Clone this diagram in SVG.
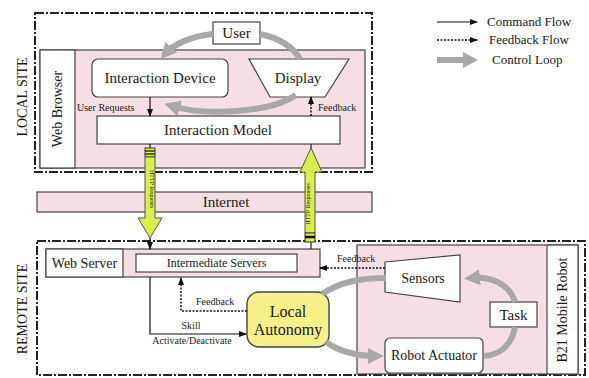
<svg xmlns="http://www.w3.org/2000/svg" width="589" height="378" viewBox="0 0 589 378" font-family="'Liberation Serif','DejaVu Serif',serif">
<style>
text{font-family:'Liberation Serif','DejaVu Serif',serif;fill:#1a1a1a}
.site{fill:none;stroke:#222;stroke-width:2;stroke-dasharray:9 2 2 2}
.pink{fill:#f6dfe4;stroke:#444;stroke-width:1.2}
.wbox{fill:#fff;stroke:#444;stroke-width:1.2}
.cmd{fill:none;stroke:#111;stroke-width:1.2}
.fb{fill:none;stroke:#111;stroke-width:1.5;stroke-dasharray:2 1.5}
.loop{fill:none;stroke:#a8a8a8;stroke-width:6}
.http{fill:#d9ef4c;stroke:#555;stroke-width:1}
.lbl{font-size:15px;text-anchor:middle}
.sm{font-size:10px}
</style>
<defs>
<marker id="ah" markerWidth="8" markerHeight="8" refX="7" refY="4" orient="auto" markerUnits="userSpaceOnUse"><path d="M0,1 L8,4 L0,7 z" fill="#111"/></marker>
<marker id="gh" markerWidth="16" markerHeight="16" refX="8" refY="8" orient="auto" markerUnits="userSpaceOnUse"><path d="M0,0 L16,8 L0,16 z" fill="#a8a8a8"/></marker>
</defs>

<!-- Legend -->
<g id="legend">
<line x1="437" y1="22" x2="477" y2="22" class="cmd" stroke-width="1.6" marker-end="url(#ah)"/>
<text x="487" y="26" font-size="13">Command Flow</text>
<line x1="437" y1="40" x2="477" y2="40" class="fb" marker-end="url(#ah)"/>
<text x="489" y="44" font-size="13">Feedback Flow</text>
<line x1="437" y1="60" x2="465" y2="60" stroke="#a8a8a8" stroke-width="6"/>
<path d="M463,52 L478,60 L463,68 z" fill="#a8a8a8"/>
<text x="492" y="64" font-size="13">Control Loop</text>
</g>

<!-- Local site -->
<g id="local-site">
<rect x="35" y="13" width="337" height="159" class="site"/>
<text transform="translate(27,97) rotate(-90)" font-size="14" text-anchor="middle">LOCAL SITE</text>
</g>
<g id="web-browser">
<rect x="40" y="50" width="325" height="118" class="pink"/>
<rect x="40" y="50" width="35" height="118" class="wbox"/>
<text transform="translate(62,109) rotate(-90)" font-size="14" text-anchor="middle">Web Browser</text>
</g>
<g id="user">
<rect x="213" y="22" width="47" height="22" class="wbox"/>
<text x="236.5" y="38" class="lbl">User</text>
</g>
<g id="interaction-device">
<rect x="92" y="59" width="136" height="38" rx="6" class="wbox"/>
<text x="160" y="83" class="lbl">Interaction Device</text>
</g>
<g id="display">
<polygon points="249,59 349,59 325,97 270,97" class="wbox"/>
<text x="298" y="83" class="lbl">Display</text>
</g>
<g id="interaction-model">
<rect x="97" y="116" width="243" height="28" class="wbox"/>
<text x="218" y="135" class="lbl">Interaction Model</text>
</g>

<!-- Internet -->
<g id="internet">
<rect x="37" y="192" width="335" height="20" class="pink"/>
<text x="226" y="207" class="lbl">Internet</text>
</g>

<!-- Remote site -->
<g id="remote-site">
<rect x="37" y="241" width="548" height="134" class="site"/>
<text transform="translate(27,309) rotate(-90)" font-size="14" text-anchor="middle">REMOTE SITE</text>
</g>
<g id="web-server">
<rect x="46" y="249" width="274" height="28" class="pink"/>
<rect x="46" y="249" width="77" height="28" class="wbox"/>
<text x="84.5" y="268" font-size="14" text-anchor="middle">Web Server</text>
</g>
<g id="intermediate-servers">
<rect x="136" y="254" width="161" height="18" class="wbox"/>
<text x="216.5" y="267" font-size="12" text-anchor="middle">Intermediate Servers</text>
</g>
<g id="robot">
<rect x="357" y="245" width="221" height="129" class="pink"/>
<rect x="547" y="245" width="31" height="129" class="wbox"/>
<text transform="translate(567,310) rotate(-90)" font-size="14" text-anchor="middle">B21 Mobile Robot</text>
</g>
<g id="local-autonomy">
<rect x="247" y="292" width="82" height="55" rx="12" fill="#f5f08a" stroke="#444" stroke-width="1.4"/>
<text x="288" y="317" font-size="16" text-anchor="middle">Local</text>
<text x="288" y="335" font-size="16" text-anchor="middle">Autonomy</text>
</g>
<g id="sensors">
<polygon points="385,262 460,255 460,302 385,292" class="wbox"/>
<text x="423" y="283" font-size="14" text-anchor="middle">Sensors</text>
</g>
<g id="task">
<rect x="490" y="302" width="47" height="25" class="wbox"/>
<text x="513.5" y="320" class="lbl">Task</text>
</g>
<g id="robot-actuator">
<rect x="385" y="338" width="98" height="35" rx="5" class="wbox"/>
<text x="434" y="360" font-size="14" text-anchor="middle">Robot Actuator</text>
</g>

<!-- Connectors -->
<g id="connectors">
<!-- local control loop -->
<path d="M213,34 C192,36 174,44 166,53" class="loop" marker-end="url(#gh)"/>
<path d="M260,34 C280,38 294,48 300,59" class="loop"/>
<path d="M296,95 C270,113 205,116 172,106" class="loop" marker-end="url(#gh)"/>
<!-- local flows -->
<line x1="150" y1="97" x2="150" y2="116" class="cmd" marker-end="url(#ah)"/>
<text x="77" y="111" class="sm">User Requests</text>
<line x1="311" y1="116" x2="311" y2="97" class="fb" marker-end="url(#ah)"/>
<text x="318" y="111" class="sm">Feedback</text>

<!-- HTTP Requests (down) -->
<line x1="150" y1="144" x2="150" y2="149" stroke="#222" stroke-width="1.2"/>
<rect x="145" y="148" width="10" height="9" fill="#d9ef4c" stroke="#333" stroke-width="1"/>
<line x1="145" y1="151" x2="155" y2="151" stroke="#333" stroke-width="1.5"/>
<line x1="145" y1="154" x2="155" y2="154" stroke="#333" stroke-width="1.5"/>
<polygon points="145,157 155,157 155,218 162,218 150,238 138,218 145,218" class="http"/>
<text transform="translate(150,189) rotate(90)" font-size="6" text-anchor="middle">HTTP Requests</text>
<line x1="150" y1="238" x2="150" y2="249" class="cmd" marker-end="url(#ah)"/>

<!-- HTTP Responses (up) -->
<line x1="311" y1="144" x2="311" y2="149" stroke="#222" stroke-width="1.2"/>
<polygon points="305,233 305,172 300,172 311,148 322,172 315,172 315,233" class="http"/>
<text transform="translate(310,204) rotate(-90)" font-size="6" text-anchor="middle">HTTP Responses</text>
<rect x="305" y="233" width="10" height="9" fill="#d9ef4c" stroke="#333" stroke-width="1"/>
<line x1="305" y1="237" x2="315" y2="237" stroke="#111" stroke-width="2.5"/>
<line x1="311" y1="242" x2="311" y2="249" stroke="#222" stroke-width="1.2"/>

<!-- remote flows -->
<line x1="385" y1="268" x2="320" y2="268" class="fb" marker-end="url(#ah)"/>
<text x="337" y="262" class="sm">Feedback</text>
<polyline points="247,311 181,311 181,278" class="fb" marker-end="url(#ah)"/>
<text x="196" y="305" class="sm">Feedback</text>
<polyline points="150,277 150,334 246,334" class="cmd" marker-end="url(#ah)"/>
<text x="191" y="329" class="sm" text-anchor="middle">Skill</text>
<text x="192" y="344" class="sm" text-anchor="middle">Activate/Deactivate</text>

<!-- remote control loop -->
<path d="M322,294 C340,282 360,278 386,278" class="loop"/>
<path d="M326,342 C340,352 355,356 376,356" class="loop" marker-end="url(#gh)"/>
<path d="M515,302 C510,285 492,276 472,278" class="loop" marker-end="url(#gh)"/>
<path d="M515,327 C512,345 500,355 484,356" class="loop"/>
</g>
</svg>
